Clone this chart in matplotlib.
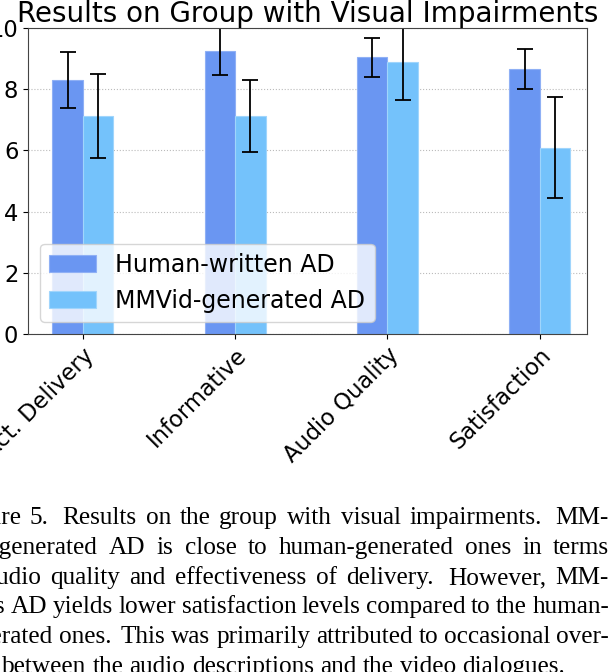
import matplotlib
matplotlib.use("Agg")
import matplotlib.pyplot as plt
import numpy as np

# values
categories = ["Act. Delivery", "Informative", "Audio Quality", "Satisfaction"]
human_mean = [8.30, 9.26, 9.04, 8.65]
human_err = [0.90, 0.81, 0.64, 0.65]
mmvid_mean = [7.12, 7.12, 8.88, 6.09]
mmvid_err = [1.38, 1.17, 1.22, 1.66]
series_labels = ["Human-written AD", "MMVid-generated AD"]

caption_lines = [
    "Figure 5.  Results on the group with visual impairments.  MM-",
    "Vid-generated AD is close to human-generated ones in terms",
    "of audio quality and effectiveness of delivery.  However, MM-",
    "Vid's AD yields lower satisfaction levels compared to the human-",
    "generated ones. This was primarily attributed to occasional over-",
    "laps between the audio descriptions and the video dialogues.",
]

W, H = 616, 672
fig = plt.figure(figsize=(W / 100, H / 100), dpi=100)

# axes box in pixels: left 28, right 587, top 28, bottom 334
ax = fig.add_axes([28 / W, 1 - 334 / H, (587 - 28) / W, (334 - 28) / H])

x = np.arange(len(categories))
width = 0.2
ax.bar(x - width / 2, human_mean, width, yerr=human_err, capsize=6,
       color="#6a96f2", edgecolor="#8fb0f5", linewidth=0.8,
       label=series_labels[0], error_kw=dict(elinewidth=1.3, capthick=1.3))
ax.bar(x + width / 2, mmvid_mean, width, yerr=mmvid_err, capsize=6,
       color="#74c2fb", edgecolor="#a0d5fc", linewidth=0.8,
       label=series_labels[1], error_kw=dict(elinewidth=1.3, capthick=1.3))

ax.set_ylim(0, 10)
ax.set_xlim(-0.36, 3.31)
ax.set_yticks([0, 2, 4, 6, 8, 10])
ax.set_xticks(x)
ax.set_xticklabels(categories, rotation=45, ha="right", rotation_mode="anchor")
ax.tick_params(labelsize=16.3)
ax.set_axisbelow(True)
ax.yaxis.grid(True, linestyle=":", color="#bbbbbb", linewidth=0.8)
for s in ax.spines.values():
    s.set_color("#444444")
ax.set_title("Results on Group with Visual Impairments", fontsize=20, pad=3)
ax.legend(loc="lower left", fontsize=17)

# caption, justified between a left edge that sits off the crop and the right edge
left_px, right_px = -45, 609
baselines = [524, 554, 584, 613, 643, 673]
fs = 18.2
renderer = fig.canvas.get_renderer()
for i, (line, yb) in enumerate(zip(caption_lines, baselines)):
    yf = 1 - yb / H
    words = [w for w in line.split(" ") if w != ""]
    texts = []
    widths = []
    for w in words:
        t = fig.text(0, yf, w, fontsize=fs, family="Liberation Serif",
                     va="baseline", ha="left")
        widths.append(t.get_window_extent(renderer).width)
        texts.append(t)
    # a little more room after a full stop, as TeX does
    weights = [1.6 if w.endswith(".") else 1.0 for w in words[:-1]]
    if i < len(caption_lines) - 1:
        unit = (right_px - left_px - sum(widths)) / sum(weights)
    else:
        unit = fs * 100 / 72 * 0.25
    xpos = left_px
    for k, (t, wd) in enumerate(zip(texts, widths)):
        t.set_x(xpos / W)
        if k < len(weights):
            xpos += wd + unit * weights[k]

fig.savefig("out.png", dpi=100)
